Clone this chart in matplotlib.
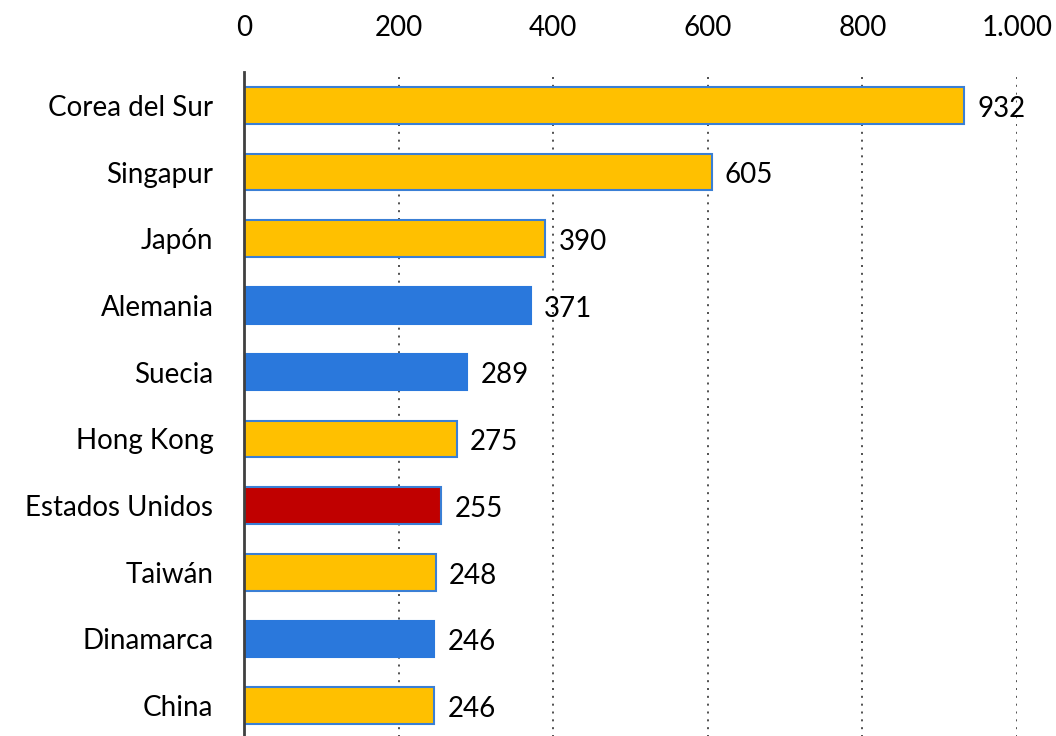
import matplotlib
matplotlib.use("Agg")
import matplotlib.pyplot as plt
from matplotlib.ticker import FuncFormatter

countries = ["Corea del Sur", "Singapur", "Japón", "Alemania", "Suecia",
             "Hong Kong", "Estados Unidos", "Taiwán", "Dinamarca", "China"]
values = [932, 605, 390, 371, 289, 275, 255, 248, 246, 246]
groups = ["asia", "asia", "asia", "europa", "europa",
          "asia", "usa", "asia", "europa", "asia"]
xticks = [0, 200, 400, 600, 800, 1000]

fill = {"asia": "#FFC000", "europa": "#2A78DC", "usa": "#C00000"}
edge = {"asia": "#3A7FD5", "europa": "#2A78DC", "usa": "#3A7FD5"}

plt.rcParams["font.family"] = ["Lato", "DejaVu Sans"]

fig = plt.figure(figsize=(10.56, 7.36), dpi=100)
ax = fig.add_axes([244 / 1056, -3 / 736, 773 / 1056, (739 - 72) / 736])

ypos = list(range(len(countries)))
ax.barh(ypos, values, height=0.55,
        color=[fill[g] for g in groups],
        edgecolor=[edge[g] for g in groups], linewidth=1.5, zorder=3)

for y, v in zip(ypos, values):
    ax.text(v + 17, y + 0.05, f"{v}", va="center", ha="left", fontsize=20, zorder=4)

ax.set_xlim(0, 1000)
ax.set_ylim(len(countries) - 0.5, -0.5)
ax.set_yticks(ypos)
ax.set_yticklabels(countries, fontsize=20)
ax.set_xticks(xticks)
ax.xaxis.set_major_formatter(FuncFormatter(lambda x, p: f"{int(x):,}".replace(",", ".")))
ax.xaxis.tick_top()
ax.tick_params(axis="x", length=0, pad=22, labelsize=20)
ax.tick_params(axis="y", length=0, pad=22)

for x in xticks[1:]:
    ax.axvline(x, color="#333333", linestyle=(0, (1.2, 3.5)), linewidth=1.2, zorder=1)

for s in ["top", "right", "bottom"]:
    ax.spines[s].set_visible(False)
ax.spines["left"].set_color("#404040")
ax.spines["left"].set_linewidth(2)
ax.spines["left"].set_zorder(5)

fig.savefig("out.png", dpi=100)
